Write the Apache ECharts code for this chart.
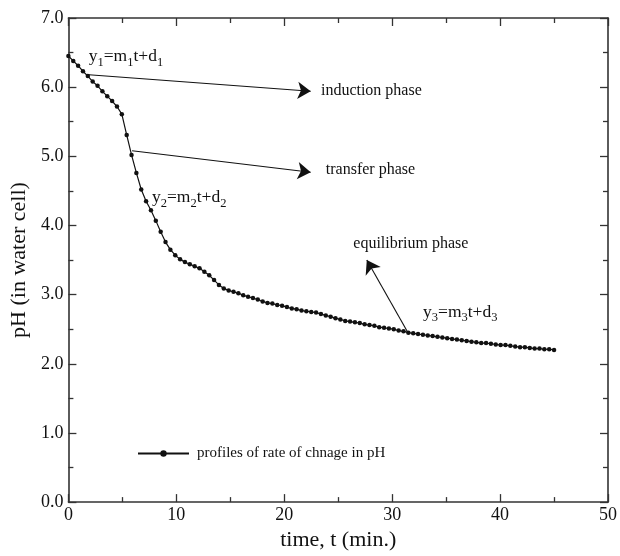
<!DOCTYPE html>
<html>
<head>
<meta charset="utf-8">
<script src="https://cdn.jsdelivr.net/npm/echarts@6/dist/echarts.min.js"></script>
<style>html,body{margin:0;padding:0;background:#fff}#c{width:620px;height:556px}</style>
</head>
<body>
<div id="c"></div>
<script>
const times = [0.00,0.45,0.90,1.35,1.80,2.25,2.70,3.15,3.60,4.05,4.50,4.95,5.40,5.85,6.30,6.75,7.20,7.65,8.10,8.55,
9.00,9.45,9.90,10.35,10.80,11.25,11.70,12.15,12.60,13.05,13.50,13.95,14.40,14.85,15.30,15.75,16.20,16.65,17.10,17.55,
18.00,18.45,18.90,19.35,19.80,20.25,20.70,21.15,21.60,22.05,22.50,22.95,23.40,23.85,24.30,24.75,25.20,25.65,26.10,26.55,
27.00,27.45,27.90,28.35,28.80,29.25,29.70,30.15,30.60,31.05,31.50,31.95,32.40,32.85,33.30,33.75,34.20,34.65,35.10,35.55,
36.00,36.45,36.90,37.35,37.80,38.25,38.70,39.15,39.60,40.05,40.50,40.95,41.40,41.85,42.30,42.75,43.20,43.65,44.10,44.55,45.00];
const phValues = [6.45,6.38,6.31,6.23,6.16,6.08,6.02,5.94,5.87,5.80,5.72,5.61,5.31,5.02,4.76,4.52,4.35,4.22,4.07,3.91,
3.76,3.65,3.57,3.51,3.47,3.44,3.41,3.38,3.33,3.28,3.21,3.14,3.09,3.06,3.04,3.02,2.99,2.97,2.95,2.93,
2.90,2.88,2.87,2.85,2.84,2.82,2.80,2.79,2.77,2.76,2.75,2.74,2.72,2.70,2.68,2.66,2.64,2.62,2.61,2.60,
2.59,2.57,2.56,2.55,2.53,2.52,2.51,2.50,2.48,2.47,2.45,2.44,2.43,2.42,2.41,2.40,2.39,2.38,2.37,2.36,
2.35,2.34,2.33,2.32,2.31,2.30,2.30,2.29,2.28,2.27,2.27,2.26,2.25,2.24,2.24,2.23,2.22,2.22,2.21,2.21,2.20];
const xTicks = [0,10,20,30,40,50];
const yTicks = [0,1,2,3,4,5,6,7];
const seriesName = 'profiles of rate of chnage in pH';

const FONT = '"Liberation Serif","Times New Roman",serif';
const data = times.map((t,i)=>[t, phValues[i]]);

const chart = echarts.init(document.getElementById('c'), null, {renderer:'canvas'});
const axisCommon = {
  type:'value',
  axisLine:{show:true, onZero:false, lineStyle:{color:'#333', width:1.6}},
  axisTick:{show:true, inside:true, length:8, lineStyle:{color:'#333', width:1.3}},
  minorTick:{show:true, splitNumber:2, length:5, lineStyle:{color:'#333', width:1.3}},
  splitLine:{show:false}
};
const eqText = (n)=>`{m|y}{s|${n}}{m|=m}{s|${n}}{m|t+d}{s|${n}}`;
const richEq = {
  m:{fontFamily:FONT, fontSize:17.5, color:'#111', lineHeight:24, verticalAlign:'middle'},
  s:{fontFamily:FONT, fontSize:12.5, color:'#111', lineHeight:12, verticalAlign:'bottom'}
};
const txt = (coord, text, rich) => ({
  coord, symbol:'circle', symbolSize:0,
  label:{show:true, position:'right', distance:0, formatter:text, rich:rich||undefined,
    fontFamily:FONT, fontSize:16, color:'#111'}
});

chart.setOption({
  animation:false,
  backgroundColor:'#fff',
  grid:{left:67, right:9, top:18, bottom:50},
  legend:{
    left:132, top:441, itemWidth:51, itemHeight:8,
    data:[seriesName],
    textStyle:{fontFamily:FONT, fontSize:15, color:'#111', padding:[0,0,0,3]}
  },
  xAxis:[
    Object.assign({}, axisCommon, {min:0, max:50, interval:10, position:'bottom',
      name:'time, t (min.)', nameLocation:'middle', nameGap:24,
      nameTextStyle:{fontFamily:FONT, fontSize:22, color:'#111', verticalAlign:'top'},
      axisLabel:{fontFamily:FONT, fontSize:18, color:'#111', margin:4,
        formatter:(v)=> xTicks.includes(v) ? String(v) : ''}}),
    Object.assign({}, axisCommon, {min:0, max:50, interval:10, position:'top', axisLabel:{show:false}})
  ],
  yAxis:[
    Object.assign({}, axisCommon, {min:0, max:7, interval:1, position:'left',
      name:'pH (in water cell)', nameLocation:'middle', nameGap:36, nameRotate:90,
      nameTextStyle:{fontFamily:FONT, fontSize:22, color:'#111'},
      axisLabel:{fontFamily:FONT, fontSize:18, color:'#111', margin:5,
        formatter:(v)=> yTicks.includes(v) ? v.toFixed(1) : ''}}),
    Object.assign({}, axisCommon, {min:0, max:7, interval:1, position:'right', axisLabel:{show:false}})
  ],
  series:[{
    name:seriesName, type:'line', data,
    symbol:'circle', symbolSize:4.5, showSymbol:true,
    itemStyle:{color:'#111'}, lineStyle:{color:'#111', width:1.2},
    markLine:{
      silent:true, symbol:['none','arrow'], symbolSize:13,
      lineStyle:{color:'#111', width:1.1, type:'solid'}, label:{show:false},
      emphasis:{disabled:true},
      data:[
        [{coord:[1.9,6.18]},{coord:[22.45,5.94]}],
        [{coord:[5.9,5.08]},{coord:[22.45,4.77]}],
        [{coord:[31.47,2.45]},{coord:[27.65,3.50]}]
      ]
    },
    markPoint:{
      silent:true,
      data:[
        txt([1.88,6.44], eqText(1), richEq),
        txt([7.74,4.40], eqText(2), richEq),
        txt([32.86,2.75], eqText(3), richEq),
        txt([23.4,5.95], 'induction phase'),
        txt([23.85,4.81], 'transfer phase'),
        txt([26.4,3.73], 'equilibrium phase')
      ]
    }
  }]
});
</script>
</body>
</html>
